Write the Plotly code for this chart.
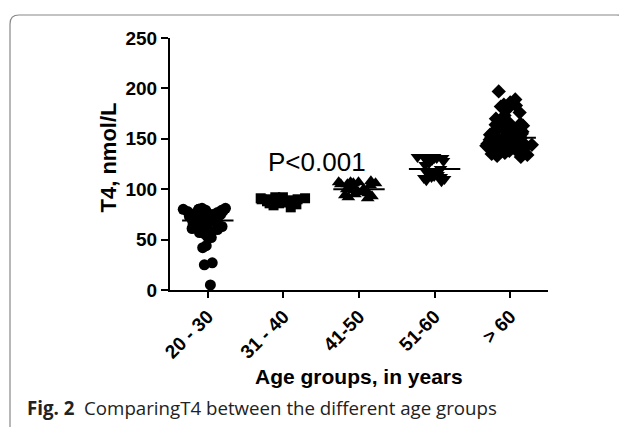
import numpy as np
import plotly.graph_objects as go

categories = ["20 - 30", "31 - 40", "41-50", "51-60", "> 60"]

g1 = [81, 81, 80, 80, 80, 79, 79, 78, 78, 77, 77, 76, 76, 75, 75, 74, 74, 73, 72, 72,
      71, 70, 70, 69, 68, 68, 67, 66, 65, 65, 64, 63, 62, 61, 60, 59, 58, 57, 56, 55,
      53, 52, 44, 42, 27, 25, 5]
g2 = [92, 92, 91, 91, 91, 90, 90, 90, 89, 89, 88, 88, 87, 87, 87, 86, 86, 85, 84, 82]
g3 = [108, 107, 107, 107, 106, 106, 105, 105, 104, 103, 100, 99, 98, 97, 96, 95, 94,
      93, 92, 91, 100]
g4 = [132, 132, 132, 131, 131, 131, 130, 130, 129, 128, 126, 124, 120, 118, 117, 116,
      115, 114, 113, 112, 111, 110, 109, 108, 112]
g5 = [197, 189, 186, 184, 183, 182, 179, 176, 173, 170, 168, 166, 165, 164, 163, 162,
      161, 160, 159, 158, 157, 156, 155, 154, 153, 152, 151, 150, 150, 149, 148, 147,
      146, 146, 145, 144, 143, 143, 142, 141, 140, 139, 138, 137, 136, 135, 134, 133,
      132, 140, 145, 148, 138]
groups = [g1, g2, g3, g4, g5]
symbols = ["circle", "square", "triangle-up", "triangle-down", "diamond"]
sizes = [11, 10, 12, 12, 11]

yticks = [0, 50, 100, 150, 200, 250]
p_text = "P<0.001"

fig = go.Figure()
for i, (vals, sym, sz) in enumerate(zip(groups, symbols, sizes)):
    fig.add_trace(go.Box(
        x=[i] * len(vals), y=vals, boxpoints="all", jitter=1.0, pointpos=0,
        width=0.7, fillcolor="rgba(0,0,0,0)", line=dict(width=0, color="rgba(0,0,0,0)"),
        marker=dict(symbol=sym, size=sz, color="black"),
        hoverinfo="y", showlegend=False))
    med = float(np.median(vals))
    fig.add_trace(go.Scatter(x=[i - 0.34, i + 0.34], y=[med, med], mode="lines",
                             line=dict(color="black", width=2), showlegend=False,
                             hoverinfo="skip"))

# page body has an 8px margin; figure coordinates are page coordinates minus 8
W, H = 619, 419
L, T, R, B = 162, 30, 540, 282
pw, ph = R - L, B - T


def px(x):
    return (x - L) / pw


def py(y):
    return (B - y) / ph


r = 9
x0, x1, yt, yb = 2, 617.5, 7, 430
path = (f"M {px(x0)},{py(yb)} L {px(x0)},{py(yt + r)} "
        f"Q {px(x0)},{py(yt)} {px(x0 + r)},{py(yt)} "
        f"L {px(x1 - r)},{py(yt)} Q {px(x1)},{py(yt)} {px(x1)},{py(yt + r)} "
        f"L {px(x1)},{py(yb)}")

bold = dict(family="Liberation Sans, Arial", size=19, color="black", weight="bold")
fig.update_layout(
    width=W, height=H, margin=dict(l=L, r=W - R, t=T, b=H - B, autoexpand=False),
    paper_bgcolor="white", plot_bgcolor="white", boxmode="overlay",
    xaxis=dict(range=[-0.5, 4.5], tickvals=list(range(5)), ticktext=categories,
               tickangle=-45, showline=True, linecolor="black", linewidth=2,
               ticks="outside", ticklen=6, tickwidth=2, tickcolor="black",
               showgrid=False, zeroline=False, tickfont=bold, automargin=False),
    yaxis=dict(range=[0, 250], tickvals=yticks, showline=True, linecolor="black",
               linewidth=2, ticks="outside", ticklen=7, tickwidth=2, tickcolor="black",
               showgrid=False, zeroline=False, tickfont=bold, automargin=False),
    shapes=[dict(type="path", xref="paper", yref="paper", path=path,
                 line=dict(color="#888888", width=1.2))],
    annotations=[
        dict(text=p_text, x=1.45, y=127, xref="x", yref="y", showarrow=False,
             xanchor="center", yanchor="middle",
             font=dict(family="Liberation Sans, Arial", size=26, color="black")),
        dict(text="<b>Age groups, in years</b>", x=0.5, y=py(368),
             xref="paper", yref="paper", showarrow=False, xanchor="center",
             yanchor="middle",
             font=dict(family="Liberation Sans, Arial", size=21, color="black")),
        dict(text="<b>T4, nmol/L</b>", x=px(99.5), y=py(150), xref="paper",
             yref="paper", showarrow=False, textangle=-90, xanchor="center",
             yanchor="middle",
             font=dict(family="Liberation Sans, Arial", size=22, color="black")),
        dict(text="<b>Fig. 2</b>  ComparingT4 between the different age groups",
             x=px(17), y=py(399), xref="paper", yref="paper", showarrow=False,
             xanchor="left", yanchor="middle",
             font=dict(family="Open Sans", size=18.7, color="#222222")),
    ],
)
fig.write_html("out.html")
